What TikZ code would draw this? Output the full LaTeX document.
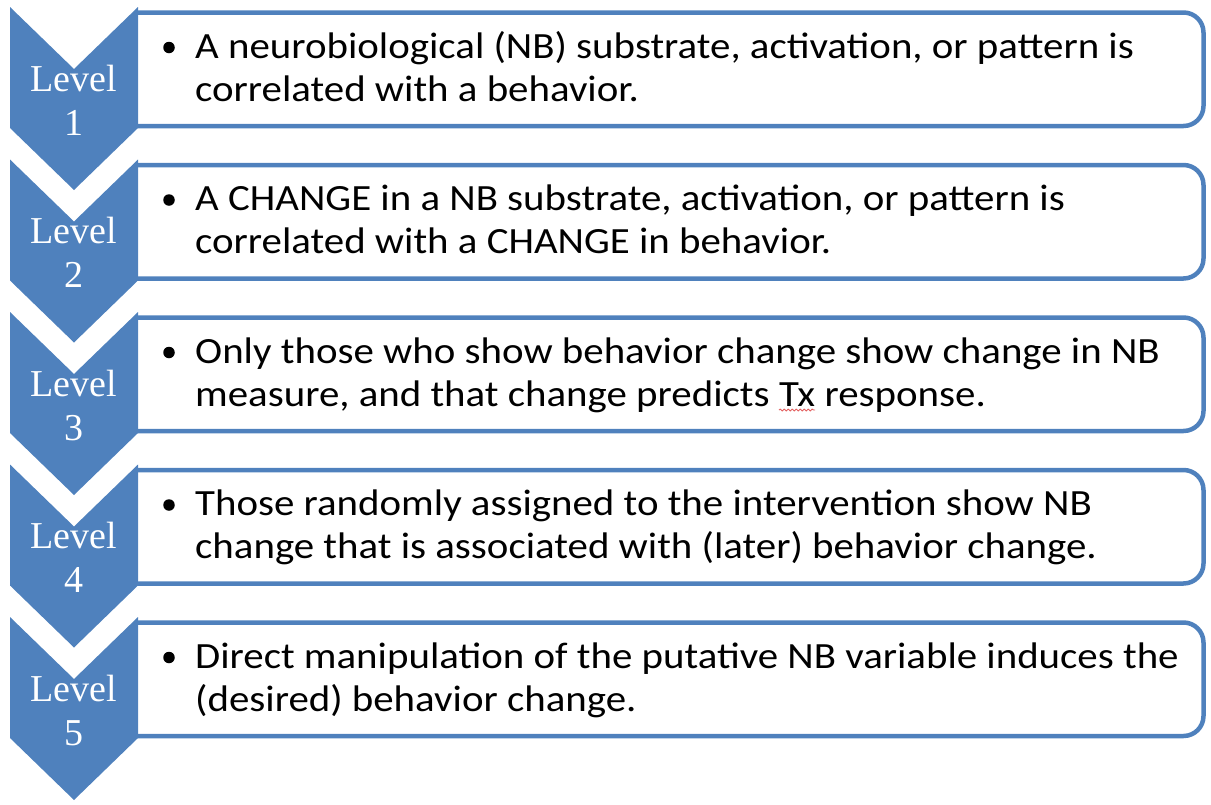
\documentclass[tikz,border=0pt]{standalone}
\usepackage{fontspec}
\setmainfont{Carlito}
\newfontfamily\levelfont{Liberation Serif}
\usetikzlibrary{decorations.pathmorphing}
\definecolor{chevblue}{RGB}{79,129,189}
\definecolor{spellred}{RGB}{226,96,96}
% slightly widened body text
\newcommand{\widetext}[1]{\scalebox{1.105}[1]{#1}}

\begin{document}
\begin{tikzpicture}[x=1pt,y=-1pt,
  chevron/.style={fill=chevblue, draw=none},
  itembox/.style={draw=chevblue, line width=4.5pt, rounded corners=20pt},
  lvl/.style={text=white, font=\levelfont\fontsize{38}{38}\selectfont, anchor=base, inner sep=0pt},
  itemtext/.style={font=\fontsize{37}{44}\selectfont, anchor=base west, inner sep=0pt, text=black},
  dot/.style={circle, fill=black, minimum size=11.5pt, inner sep=0pt},
  squiggle/.style={draw=spellred, line width=0.9pt, decorate,
    decoration={snake, amplitude=0.9pt, segment length=4pt}}]

\useasboundingbox (0,0) rectangle (1211,804);

% boxes first, then chevrons on top of their left ends
\foreach \t [count=\n] in {7,159.5,312,464.5,617} {
  \draw[itembox] (137,{\t+5.5}) -- (1203.5,{\t+5.5}) -- (1203.5,{\t+119}) -- (137,{\t+119});
  \fill[chevron] (10,\t) -- (74,{\t+62}) -- (138,\t) -- (138,{\t+121})
                 -- (74,{\t+183}) -- (10,{\t+121}) -- cycle;
  \node[lvl] (lvl\n) at (74,{\t+84}) {Level};
  \node[lvl] (num\n) at (74,{\t+128}) {\n};
  \node[dot] (dot\n) at (169,{\t+40.5}) {};
}

% level 1
\node[itemtext] (t1a) at (195,58) {\widetext{A neurobiological (NB) substrate, activation, or pattern is}};
\node[itemtext] (t1b) at (195,101) {\widetext{correlated with a behavior.}};
% level 2
\node[itemtext] (t2a) at (195,210.5) {\widetext{A CHANGE in a NB substrate, activation, or pattern is}};
\node[itemtext] (t2b) at (195,253.5) {\widetext{correlated with a CHANGE in behavior.}};
% level 3
\node[itemtext] (t3a) at (195,363) {\widetext{Only those who show behavior change show change in NB}};
\node[itemtext] (t3b) at (195,406) {\widetext{measure, and that change predicts}};
\node[itemtext] (tx) at ([xshift=9.2pt]t3b.base east) {\widetext{Tx}};
\node[itemtext] (t3c) at ([xshift=9.2pt]tx.base east) {\widetext{response.}};
\draw[squiggle] ([yshift=-4pt]tx.base west) -- ([yshift=-4pt]tx.base east);
% level 4
\node[itemtext] (t4a) at (195,515.5) {\widetext{Those randomly assigned to the intervention show NB}};
\node[itemtext] (t4b) at (195,558.5) {\widetext{change that is associated with (later) behavior change.}};
% level 5
\node[itemtext] (t5a) at (195,668) {\widetext{Direct manipulation of the putative NB variable induces the}};
\node[itemtext] (t5b) at (195,711) {\widetext{(desired) behavior change.}};
\end{tikzpicture}
\end{document}
